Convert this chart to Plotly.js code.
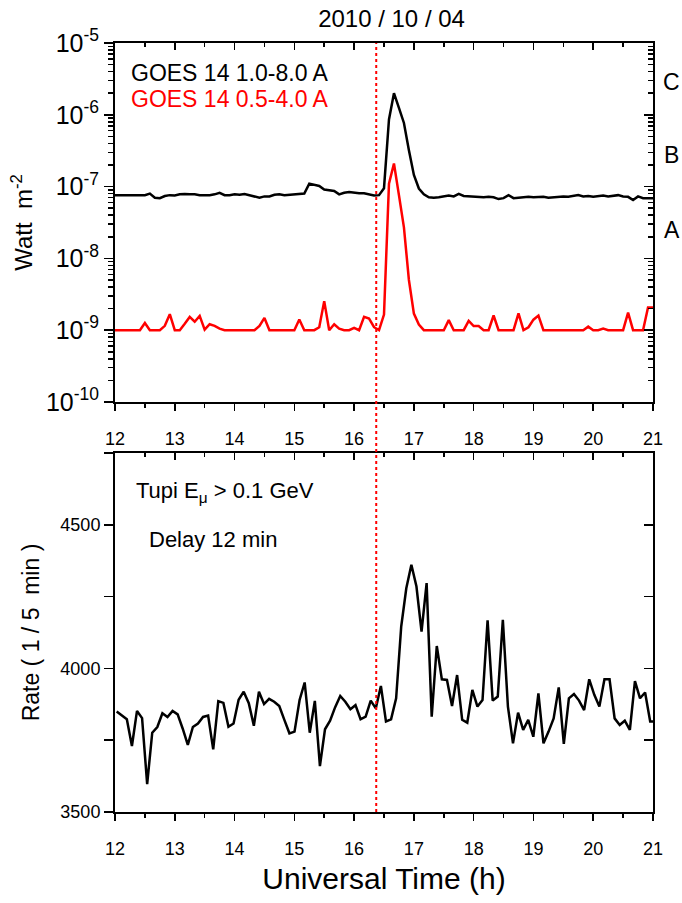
<!DOCTYPE html>
<html><head><meta charset="utf-8">
<script src="https://cdn.plot.ly/plotly-3.0.1.min.js"></script>
<style>html,body{margin:0;padding:0;background:#fff}#chart{width:682px;height:903px}</style>
</head><body><div id="chart"></div>
<script>
// ---------- data ----------
const GOES_START_H = 12.0;          // first GOES sample (UT hours)
const GOES_STEP_H = 5 / 60;         // 5-min cadence
const goesLong = [ // GOES 14 1.0-8.0 A, W m^-2
 7.6e-8,7.6e-8,7.5e-8,7.5e-8,7.6e-8,7.5e-8,7.6e-8,8.0e-8,7.0e-8,6.9e-8,
 7.4e-8,7.6e-8,7.5e-8,7.8e-8,7.9e-8,7.8e-8,7.8e-8,7.6e-8,7.6e-8,7.6e-8,
 7.8e-8,8.2e-8,7.6e-8,7.6e-8,7.8e-8,7.7e-8,7.9e-8,7.6e-8,7.4e-8,7.0e-8,
 7.3e-8,7.3e-8,7.7e-8,7.8e-8,7.6e-8,7.7e-8,7.7e-8,7.9e-8,8.0e-8,1.10e-7,
 1.07e-7,1.02e-7,9.1e-8,8.9e-8,8.7e-8,7.8e-8,8.2e-8,8.4e-8,8.2e-8,8.1e-8,
 8.1e-8,7.8e-8,7.5e-8,7.6e-8,9.5e-8,8.6e-7,2.0e-6,1.25e-6,7.7e-7,3.2e-7,
 1.45e-7,9.4e-8,7.8e-8,7.1e-8,7.0e-8,7.1e-8,7.3e-8,7.5e-8,7.3e-8,7.9e-8,
 7.4e-8,7.3e-8,7.2e-8,7.2e-8,7.1e-8,7.2e-8,7.1e-8,6.7e-8,6.9e-8,7.6e-8,
 6.9e-8,7.0e-8,7.1e-8,7.2e-8,7.1e-8,7.1e-8,7.2e-8,7.0e-8,7.1e-8,7.2e-8,
 7.3e-8,7.2e-8,7.4e-8,7.6e-8,7.3e-8,7.4e-8,7.2e-8,7.3e-8,7.5e-8,7.3e-8,
 7.4e-8,7.6e-8,7.3e-8,7.2e-8,6.5e-8,7.3e-8,6.9e-8,6.9e-8,6.9e-8
];
const goesShort = [ // GOES 14 0.5-4.0 A, W m^-2
 1.0e-9,1.0e-9,1.0e-9,1.0e-9,1.0e-9,1.0e-9,1.26e-9,1.0e-9,1.0e-9,1.0e-9,
 1.15e-9,1.67e-9,1.0e-9,1.0e-9,1.23e-9,1.53e-9,1.31e-9,1.58e-9,1.02e-9,1.21e-9,
 1.15e-9,1.05e-9,1.0e-9,1.0e-9,1.0e-9,1.0e-9,1.0e-9,1.0e-9,1.0e-9,1.15e-9,
 1.48e-9,1.0e-9,1.0e-9,1.0e-9,1.0e-9,1.0e-9,1.0e-9,1.41e-9,1.0e-9,1.0e-9,
 1.0e-9,1.1e-9,2.54e-9,1.0e-9,1.21e-9,1.05e-9,1.0e-9,1.0e-9,1.08e-9,1.0e-9,
 1.53e-9,1.45e-9,1.1e-9,1.0e-9,1.65e-9,1.1e-7,2.1e-7,7.6e-8,2.7e-8,5.0e-9,
 1.7e-9,1.2e-9,1.0e-9,1.0e-9,1.0e-9,1.0e-9,1.0e-9,1.38e-9,1.0e-9,1.0e-9,
 1.0e-9,1.35e-9,1.14e-9,1.14e-9,1.0e-9,1.0e-9,1.6e-9,1.0e-9,1.0e-9,1.0e-9,
 1.0e-9,1.71e-9,1.0e-9,1.1e-9,1.4e-9,1.6e-9,1.0e-9,1.0e-9,1.0e-9,1.0e-9,
 1.0e-9,1.0e-9,1.0e-9,1.0e-9,1.0e-9,1.12e-9,1.0e-9,1.0e-9,1.05e-9,1.0e-9,
 1.0e-9,1.0e-9,1.0e-9,1.76e-9,1.0e-9,1.0e-9,1.0e-9,2.07e-9,2.07e-9
];
const TUPI_START_H = 12.028;        // first Tupi sample as plotted (UT hours, 12-min delay applied)
const TUPI_STEP_H = 0.085;          // sample spacing as plotted
const tupiRate = [ // counts per 5 min
 3850,3837,3823,3730,3852,3827,3597,3776,3796,3844,
 3831,3852,3840,3790,3734,3796,3808,3831,3836,3718,
 3886,3880,3797,3808,3891,3919,3879,3800,3919,3876,
 3894,3884,3869,3821,3774,3780,3890,3951,3776,3887,
 3660,3788,3818,3865,3904,3884,3858,3872,3823,3832,
 3888,3861,3939,3815,3823,3896,4146,4279,4361,4285,
 4128,4297,3832,4078,3962,3960,3869,3977,3821,3811,
 3925,3867,3890,4167,3888,3902,4169,3867,3739,3846,
 3786,3821,3762,3913,3739,3780,3826,3934,3737,3896,
 3911,3888,3855,3962,3908,3867,3962,3962,3826,3803,
 3818,3786,3956,3896,3916,3815,3815
];
const FLARE_ONSET_H = 16.37;
const xTickVals = [12,13,14,15,16,17,18,19,20,21];
const goesTickVals = [1e-10,1e-9,1e-8,1e-7,1e-6,1e-5];
const goesTickText = ['10<sup>-10</sup>','10<sup>-9</sup>','10<sup>-8</sup>','10<sup>-7</sup>','10<sup>-6</sup>','10<sup>-5</sup>'];
const rateTickVals = [3500,4000,4500];
const classLabels = ['C','B','A'];
const classLabelLogY = [-5.55,-6.56,-7.6];

// ---------- build ----------
const goesT = goesLong.map((_, i) => GOES_START_H + i * GOES_STEP_H);
const tupiT = tupiRate.map((_, i) => TUPI_START_H + i * TUPI_STEP_H);

const FONT = '"Liberation Sans", Arial, sans-serif';
const black = '#000';

const traces = [
  {x: goesT, y: goesLong, xaxis:'x', yaxis:'y', mode:'lines', line:{color:black, width:2.5}, hoverinfo:'skip'},
  {x: goesT, y: goesShort, xaxis:'x', yaxis:'y', mode:'lines', line:{color:'#ff0000', width:2.5}, hoverinfo:'skip'},
  {x: tupiT, y: tupiRate, xaxis:'x2', yaxis:'y2', mode:'lines', line:{color:black, width:2.5}, hoverinfo:'skip'},
  {x: [], y: [], xaxis:'x3', yaxis:'y3', mode:'lines', hoverinfo:'skip'},
  {x: [], y: [], xaxis:'x4', yaxis:'y4', mode:'lines', hoverinfo:'skip'}
];

const tickFont = {family: FONT, size: 18, color: black};
const baseAx = {showgrid:false, zeroline:false, tickcolor:black, tickwidth:1.5, tickfont:tickFont, fixedrange:true};
const xMain = (anchor) => Object.assign({}, baseAx, {
  anchor, range:[12,21], tickvals:xTickVals, ticks:'outside', ticklen:7, ticklabelstandoff:12,
  showline:true, linecolor:black, linewidth:2, mirror:true,
  minor:{dtick:0.5, tick0:12, ticks:'outside', ticklen:4, tickcolor:black, tickwidth:1.5}
});
const xOver = (over, anchor) => Object.assign({}, baseAx, {
  overlaying: over, anchor, side:'top', range:[12,21], tickvals:xTickVals, ticks:'inside', ticklen:7,
  showticklabels:false, showline:false,
  minor:{dtick:0.5, tick0:12, ticks:'inside', ticklen:4, tickcolor:black, tickwidth:1.5}
});

const TOP_DOM = [0.5332, 1];
const BOT_DOM = [0, 0.4668];

const layout = {
  width: 682, height: 903,
  margin: {l:115, r:29, t:43, b:91},
  paper_bgcolor:'#fff', plot_bgcolor:'#fff',
  showlegend:false,
  font:{family:FONT, color:black},
  title:{text:'2010 / 10 / 04', font:{family:FONT, size:24, color:black}, x:0.514, xref:'paper', xanchor:'center', y:1-19/903, yref:'container', yanchor:'middle'},
  xaxis: xMain('y'),
  xaxis2: Object.assign(xMain('y2'), {
    title:{text:'Universal Time (h)', font:{family:FONT, size:30, color:black}, standoff:10}
  }),
  xaxis3: xOver('x', 'y'),
  xaxis4: xOver('x2', 'y2'),
  yaxis: Object.assign({}, baseAx, {
    type:'log', domain:TOP_DOM, anchor:'x', range:[-10,-5],
    tickvals:goesTickVals, ticktext:goesTickText, tickfont:{family:FONT, size:25, color:black},
    ticks:'outside', ticklen:9, showline:true, linecolor:black, linewidth:2, mirror:true,
    minor:{dtick:'D1', ticks:'outside', ticklen:5, tickcolor:black, tickwidth:1.5},
    title:{text:'Watt  m<sup>-2</sup>', font:{family:FONT, size:24, color:black}, standoff:6}
  }),
  yaxis3: Object.assign({}, baseAx, {
    type:'log', overlaying:'y', anchor:'x', side:'right', range:[-10,-5],
    tickvals:goesTickVals, ticks:'inside', ticklen:9, showticklabels:false, showline:false,
    minor:{dtick:'D1', ticks:'inside', ticklen:5, tickcolor:black, tickwidth:1.5}
  }),
  yaxis2: Object.assign({}, baseAx, {
    domain:BOT_DOM, anchor:'x2', range:[3500,4750],
    tickvals:rateTickVals,
    ticks:'outside', ticklen:9, showline:true, linecolor:black, linewidth:2, mirror:true,
    minor:{dtick:250, tick0:3500, ticks:'outside', ticklen:9, tickcolor:black, tickwidth:1.5},
    title:{text:'Rate ( 1 / 5  min )', font:{family:FONT, size:23, color:black}, standoff:14}
  }),
  yaxis4: Object.assign({}, baseAx, {
    overlaying:'y2', anchor:'x2', side:'right', range:[3500,4750],
    tickvals:rateTickVals, ticks:'inside', ticklen:9, showticklabels:false, showline:false,
    minor:{dtick:250, tick0:3500, ticks:'inside', ticklen:9, tickcolor:black, tickwidth:1.5}
  }),
  shapes: [{
    type:'line', xref:'x', x0:FLARE_ONSET_H, x1:FLARE_ONSET_H, yref:'paper', y0:0, y1:1,
    line:{color:'#ff0000', width:2, dash:'dot'}, layer:'above'
  }],
  annotations: [
    {text:'GOES 14 1.0-8.0 A', xref:'paper', yref:'paper', x:0.026, y:0.961, xanchor:'left', yanchor:'middle', showarrow:false, font:{family:FONT, size:23, color:black}},
    {text:'GOES 14 0.5-4.0 A', xref:'paper', yref:'paper', x:0.026, y:0.927, xanchor:'left', yanchor:'middle', showarrow:false, font:{family:FONT, size:23, color:'#ff0000'}},
    ...classLabels.map((t, k) => ({text:t, xref:'paper', yref:'y', x:1.035, y:classLabelLogY[k], xanchor:'center', yanchor:'middle', showarrow:false, font:{family:FONT, size:23, color:black}})),
    {text:'Tupi E<sub>μ</sub> > 0.1 GeV', xref:'paper', yref:'paper', x:0.035, y:0.416, xanchor:'left', yanchor:'middle', showarrow:false, font:{family:FONT, size:22, color:black}},
    {text:'Delay 12 min', xref:'paper', yref:'paper', x:0.06, y:0.354, xanchor:'left', yanchor:'middle', showarrow:false, font:{family:FONT, size:22, color:black}}
  ]
};

Plotly.newPlot('chart', traces, layout, {staticPlot:true, displayModeBar:false});
</script>
</body></html>
